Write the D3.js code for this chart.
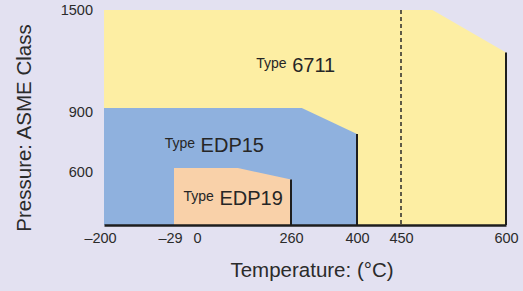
<!DOCTYPE html>
<html>
<head>
<meta charset="utf-8">
<script src="https://cdn.jsdelivr.net/npm/d3@7"></script>
<style>
  body { margin:0; background:#e3e1f1; }
  svg { display:block; font-family:"Liberation Sans", Arial, sans-serif; }
  .axis text { fill:#2b2b2b; font-size:14.5px; }
</style>
</head>
<body>
<svg id="chart"></svg>
<script>
// temperature ticks (°C) and pressure classes
var tempTicks = [-200, -29, 0, 260, 400, 450, 600];
var pressTicks = [600, 900, 1500];

// outline of each valve type : [temperature, pressure]
var type6711 = [[-200,300],[-200,1500],[495,1500],[600,1240],[600,300]];
var typeEDP15 = [[-200,300],[-200,900],[283,900],[400,770],[400,300]];
var typeEDP19 = [[-29,300],[-29,600],[113,600],[260,540],[260,300]];

var typeNames = ["6711", "EDP15", "EDP19"];
var typeColors = ["#fdeea3", "#8fb1de", "#f9d1a9"];

var types = [
  {name:typeNames[0], pts:type6711, fill:typeColors[0], lab:[270,1120]},
  {name:typeNames[1], pts:typeEDP15, fill:typeColors[1], lab:[48,680]},
  {name:typeNames[2], pts:typeEDP19, fill:typeColors[2], lab:[100,405]}
];

var screen = {width:523, height:291};

var svg = d3.select("#chart")
  .attr("width", screen.width)
  .attr("height", screen.height);

// axis is not linear, the picture spaces the ticks by hand
var xScale = d3.scaleLinear()
  .domain(tempTicks)
  .range([104, 174, 197, 291, 357, 401, 506]);

var yScale = d3.scaleLinear()
  .domain([300, 600, 900, 1500])
  .range([225, 168, 108, 10]);

var line = d3.line()
  .x(function(d){ return xScale(d[0]); })
  .y(function(d){ return yScale(d[1]); });

svg.selectAll("path.area")
  .data(types)
  .enter()
  .append("path")
  .attr("class","area")
  .attr("d", function(t){ return line(t.pts) + "Z"; })
  .attr("fill", function(t){ return t.fill; });

// dark right edges
svg.selectAll("line.edge")
  .data(types)
  .enter()
  .append("line")
  .attr("class","edge")
  .attr("x1", function(t){ return xScale(t.pts[3][0]); })
  .attr("x2", function(t){ return xScale(t.pts[3][0]); })
  .attr("y1", function(t){ return yScale(t.pts[3][1]); })
  .attr("y2", yScale(300))
  .attr("stroke","#1e1e1e")
  .attr("stroke-width",2);

// 450 dashed line
svg.append("line")
  .attr("x1", xScale(450)).attr("x2", xScale(450))
  .attr("y1", yScale(1500)).attr("y2", yScale(300))
  .attr("stroke","#2a2a2a")
  .attr("stroke-width",1.5)
  .attr("stroke-dasharray","4,3");

var xAxis = d3.axisBottom(xScale)
  .tickValues(tempTicks)
  .tickSize(0)
  .tickPadding(8)
  .tickFormat(function(d){ return d < 0 ? "\u2013" + Math.abs(d) : d; });

var gx = svg.append("g")
  .attr("class","axis")
  .attr("transform","translate(0,"+yScale(300)+")")
  .call(xAxis);
gx.select(".domain").attr("stroke","#1e1e1e").attr("stroke-width",2.5);
gx.selectAll("text").attr("dx", function(d){ return d < 0 ? "-4" : "0"; });

var yAxis = d3.axisLeft(yScale)
  .tickValues(pressTicks)
  .tickSize(0)
  .tickPadding(11)
  .tickFormat(d3.format("d"));

var gy = svg.append("g")
  .attr("class","axis")
  .attr("transform","translate(104,0)")
  .call(yAxis);
gy.select(".domain").remove();
gy.selectAll(".tick text").attr("dy","0.6em");
gy.selectAll(".tick").filter(function(d){ return d == 1500; })
  .select("text").attr("dy","0.3em");

// type labels
var labs = svg.selectAll("text.type")
  .data(types)
  .enter()
  .append("text")
  .attr("class","type")
  .attr("x", function(t){ return xScale(t.lab[0]); })
  .attr("y", function(t){ return yScale(t.lab[1]); })
  .attr("text-anchor","middle")
  .attr("fill","#262626");
labs.append("tspan").attr("font-size","14px").attr("dy","-0.3em").text("Type");
labs.append("tspan").attr("font-size","20px").attr("dy","0.21em").text(function(t){ return " " + t.name; });

svg.append("text")
  .attr("x", 312).attr("y", 277)
  .attr("text-anchor","middle")
  .attr("font-size","20.5px")
  .attr("fill","#2b2b2b")
  .text("Temperature: (\u00b0C)");

svg.append("text")
  .attr("transform","translate(31,128) rotate(-90)")
  .attr("text-anchor","middle")
  .attr("font-size","20.5px")
  .attr("fill","#2b2b2b")
  .text("Pressure: ASME Class");
</script>
</body>
</html>
